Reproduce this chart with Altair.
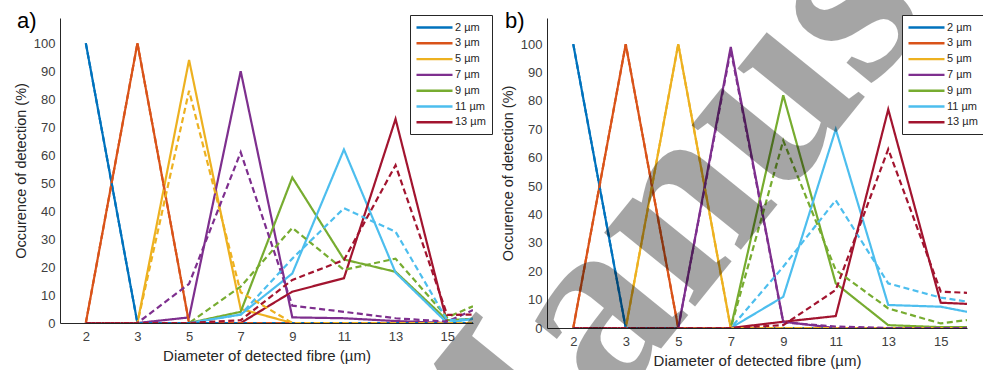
import altair as alt
import pandas as pd

# ---------------- data ----------------
X_LABELS = ["2", "3", "5", "7", "9", "11", "13", "15"]
X_POS = [1, 2, 3, 4, 5, 6, 7, 8, 8.5]          # category index of each measured diameter
SERIES = ["2 µm", "3 µm", "5 µm", "7 µm", "9 µm", "11 µm", "13 µm"]
COLORS = ["#0072BD", "#D95319", "#EDB120", "#7E2F8E", "#77AC30", "#4DBEEE", "#A2142F"]
PANEL_LABELS = ["a)", "b)"]
WATERMARK = ["Manuscript"]

A_SOLID = {
    "2 µm": [100, 0, 0, 0, 0, 0, 0, 0, 0],
    "3 µm": [0, 100, 0, 0, 0, 0, 0, 0, 0],
    "5 µm": [0, 0, 94, 5, 0, 0, 0, 0, 0],
    "7 µm": [0, 0, 2, 90, 2, 1.7, 0.7, 0, 0],
    "9 µm": [0, 0, 0, 4, 52, 22.7, 18.3, 1, 1.5],
    "11 µm": [0, 0, 0, 3, 17.7, 62, 18, 0, 1.5],
    "13 µm": [0, 0, 0, 0, 11.2, 16, 72.9, 0, 0],
}
A_DASHED = {
    "2 µm": [100, 0, 0, 0, 0, 0, 0, 0, 0],
    "3 µm": [0, 100, 0, 0, 0, 0, 0, 0, 0],
    "5 µm": [0, 0, 83, 11, 0, 0, 0, 0, 0],
    "7 µm": [0, 0, 14, 61, 6.2, 4, 1.7, 0.5, 4.6],
    "9 µm": [0, 0, 0, 13, 34, 19, 23, 2, 6],
    "11 µm": [0, 0, 0, 3, 23, 41, 32.6, 1, 1.5],
    "13 µm": [0, 0, 0, 1, 15.4, 22.5, 56.4, 2.9, 3],
}
B_SOLID = {
    "2 µm": [100, 0, 0, 0, 0, 0, 0, 0, 0],
    "3 µm": [0, 100, 0, 0, 0, 0, 0, 0, 0],
    "5 µm": [0, 0, 100, 0, 0, 0, 0, 0, 0],
    "7 µm": [0, 0, 0, 99, 2.2, 0, 0, 0, 0],
    "9 µm": [0, 0, 0, 0, 82, 15.7, 1, 0.3, 0.3],
    "11 µm": [0, 0, 0, 0, 11, 70, 8.1, 7.5, 5.7],
    "13 µm": [0, 0, 0, 0, 2.2, 4.2, 77, 8.9, 8.5],
}
B_DASHED = {
    "2 µm": [100, 0, 0, 0, 0, 0, 0, 0, 0],
    "3 µm": [0, 100, 0, 0, 0, 0, 0, 0, 0],
    "5 µm": [0, 0, 100, 0, 0, 0, 0, 0, 0],
    "7 µm": [0, 0, 0, 98, 2, 0.5, 0, 0, 0],
    "9 µm": [0, 0, 0, 0, 66, 20.4, 6.9, 1.6, 2.8],
    "11 µm": [0, 0, 0, 0, 21.6, 45, 15.7, 10.7, 9.3],
    "13 µm": [0, 0, 0, 0, 1, 13.4, 63, 12.8, 12.4],
}

FONT = "Liberation Sans"
AXIS_COL = "#262626"


def long_table(solid, dashed):
    rows = []
    for kind, table in (("solid", solid), ("dashed", dashed)):
        for s in SERIES:
            for xp, v in zip(X_POS, table[s]):
                rows.append({"series": s, "x": xp, "y": v, "kind": kind})
    return pd.DataFrame(rows)


def panel(solid, dashed, label, width, height, ymax, legend_x, label_x, watermark=None):
    df = long_table(solid, dashed)
    lab_expr = "[" + ",".join("'%s'" % t for t in X_LABELS) + "][datum.value - 1]"
    x = alt.X(
        "x:Q",
        scale=alt.Scale(domain=[0.5, 8.5], nice=False, zero=False),
        axis=alt.Axis(
            values=list(range(1, 9)), labelExpr=lab_expr, title="Diameter of detected fibre (µm)",
            grid=False, ticks=False, tickSize=0, labelPadding=7, titlePadding=5,
            labelFontSize=13, titleFontSize=15, labelFont=FONT, titleFont=FONT,
            labelColor="#404040", titleColor=AXIS_COL, domainColor=AXIS_COL,
            titleFontWeight="normal",
        ),
    )
    y = alt.Y(
        "y:Q",
        scale=alt.Scale(domain=[0, ymax], nice=False),
        axis=alt.Axis(
            values=list(range(0, 101, 10)), title="Occurence of detection (%)",
            grid=False, ticks=False, tickSize=0, labelPadding=5, titlePadding=5,
            labelFontSize=13, titleFontSize=14.5, labelFont=FONT, titleFont=FONT,
            labelColor="#404040", titleColor=AXIS_COL, domainColor=AXIS_COL,
            titleFontWeight="normal",
        ),
    )
    color = alt.Color(
        "series:N",
        scale=alt.Scale(domain=SERIES, range=COLORS),
        legend=alt.Legend(
            title=None, orient="none", legendX=legend_x, legendY=-3,
            fillColor="white", strokeColor=AXIS_COL, padding=6,
            symbolType="M-3.6,0H3.6", symbolSize=100, symbolStrokeWidth=2.4,
            symbolOffset=12, labelOffset=14, labelAlign="left", labelFontSize=11,
            labelFont=FONT, labelColor=AXIS_COL, rowPadding=3.8, cornerRadius=0,
        ),
    )
    dash = alt.StrokeDash(
        "kind:N",
        scale=alt.Scale(domain=["solid", "dashed"], range=[[1, 0], [6, 3.5]]),
        legend=None,
    )
    lines = alt.Chart(df).mark_line(strokeWidth=2.2, clip=True).encode(
        x=x, y=y, color=color, strokeDash=dash
    )
    text = alt.Chart(pd.DataFrame({"label": [label]})).mark_text(
        align="left", baseline="middle", fontSize=22, font=FONT, color="black"
    ).encode(text="label:N", x=alt.value(label_x), y=alt.value(3))
    layers = [lines, text]
    if watermark:
        wm = alt.Chart(pd.DataFrame({"wm": watermark})).mark_text(
            align="left", baseline="alphabetic", fontSize=255, font="Liberation Serif",
            fontWeight="bold", color="black", opacity=0.35, angle=309,
        ).encode(text="wm:N", x=alt.value(-88), y=alt.value(580))
        layers.append(wm)
    return alt.layer(*layers).properties(width=width, height=height)


pa = panel(A_SOLID, A_DASHED, PANEL_LABELS[0], 413, 305, 109, 350, -43)
pb = panel(B_SOLID, B_DASHED, PANEL_LABELS[1], 420, 310, 109.2, 355, -42, WATERMARK)

chart = (
    alt.hconcat(pa, pb, spacing=74, bounds="flush")
    .resolve_scale(color="independent", strokeDash="independent")
    .resolve_legend(color="independent")
    .configure_view(stroke=None)
    .properties(
        autosize=alt.AutoSizeParams(type="none"),
        padding={"left": 60, "top": 18, "right": 923, "bottom": 352},
        background="white",
    )
)

chart.save("out.html", embed_options={"renderer": "svg", "actions": False})
